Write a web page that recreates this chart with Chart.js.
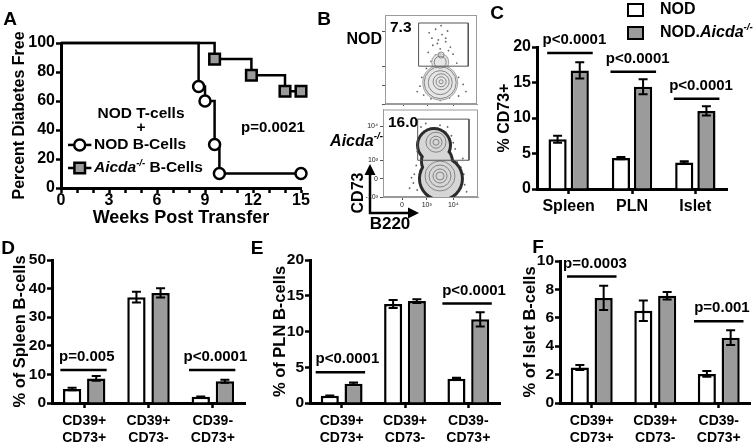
<!DOCTYPE html>
<html>
<head>
<meta charset="utf-8">
<title>Aicda B-cells</title>
<script src="https://cdn.jsdelivr.net/npm/chart.js@4.4.1/dist/chart.umd.min.js"></script>
<style>
  body { margin: 0; background: #fff; }
  #fig { position: relative; width: 755px; height: 447px; overflow: hidden; }
  #fig canvas { position: absolute; }
</style>
</head>
<body>
<div id="fig">
  <canvas id="chartA" width="332" height="232" style="left:0;top:0"></canvas>
  <canvas id="chartB1" width="160" height="106" style="left:320px;top:0"></canvas>
  <canvas id="chartB2" width="160" height="130" style="left:320px;top:104px"></canvas>
  <canvas id="chartC" width="325" height="225" style="left:430px;top:0"></canvas>
  <canvas id="chartD" width="250" height="222" style="left:0;top:225px"></canvas>
  <canvas id="chartE" width="262" height="222" style="left:250px;top:225px"></canvas>
  <canvas id="chartF" width="255" height="222" style="left:500px;top:225px"></canvas>
</div>
<script>
// ---- A : diabetes free after transfer
const nodWeeks = [0, 8.6, 9.0, 9.6, 9.9, 15];
const nodFree = [100, 70, 60, 30, 10, 10];
const aicdaWeeks = [0, 9.6, 11.9, 14.0, 15];
const aicdaFree = [100, 88.9, 77.8, 66.7, 66.7];
const weekTicks = [0, 3, 6, 9, 12, 15];

// ---- B : flow plots (axes in % of plot box)
const gateX = [36.5, 90.5, 90.5, 36.5, 36.5];
const gateNodY = [91, 91, 42.5, 42.5, 91];
const gateAicdaY = [89, 89, 42, 42, 89];
const flowXTicks = [20, 46, 74];
const flowXLabels = ['0', '10³', '10⁴'];
const flowYTicks = [0, 21, 42, 81];
const flowYLabels = ['-10³', '0', '10³', '10⁴'];
const nodLobes = [[60, 24, 17], [60, 47, 8]];
const nodRings = [[60, 24, 16], [60, 24, 12], [61, 25, 8], [61, 25, 5], [61, 25, 2], [60, 47, 6], [61, 55, 3]];
const nodDots = [[48, 80], [55, 84], [62, 78], [68, 82], [58, 72], [66, 70], [52, 66], [71, 64], [60, 62], [47, 58],
  [74, 56], [55, 55], [67, 52], [50, 48], [78, 46], [63, 40], [45, 40], [72, 38], [54, 36], [80, 30], [40, 30],
  [85, 22], [38, 20], [88, 14], [42, 10], [50, 6], [60, 4], [70, 7], [80, 9], [35, 14], [76, 18], [45, 24],
  [66, 74], [57, 68], [61, 88], [69, 60], [51, 74]];
const aicdaLobes = [[53.7, 59.3, 15], [56.8, 40.7, 14], [61, 21, 20]];
const aicdaRings = [[60, 24, 15], [60, 24, 11], [60, 24, 7], [60, 24, 4], [55.8, 62.6, 10], [55.8, 62.6, 6], [55.8, 62.6, 3]];
const aicdaDots = [[40, 80], [48, 76], [66, 74], [72, 70], [38, 66], [74, 62], [36, 52], [76, 55], [70, 48], [40, 44],
  [78, 40], [35, 36], [82, 34], [33, 26], [85, 26], [32, 16], [86, 14], [36, 8], [88, 6], [45, 84], [60, 82],
  [68, 80], [42, 72], [80, 20], [30, 22], [84, 44], [73, 30], [39, 30], [82, 10], [28, 10]];

// ---- C : % CD73+
const tissues = ['Spleen', 'PLN', 'Islet'];
const cNod = [7.0, 4.35, 3.75];
const cNodErr = [0.5, 0.15, 0.15];
const cAicda = [16.7, 14.4, 11.0];
const cAicdaErr = [1.15, 1.05, 0.65];
const cP = ['p<0.0001', 'p<0.0001', 'p<0.0001'];
const cPLevel = [19.15, 16.5, 12.7];

// ---- D, E, F : CD39 / CD73 subsets
const subsets = [['CD39+', 'CD73+'], ['CD39+', 'CD73-'], ['CD39-', 'CD73+']];
const dNod = [4.9, 37.0, 2.2];
const dNodErr = [0.4, 1.9, 0.1];
const dAicda = [8.6, 38.5, 7.6];
const dAicdaErr = [0.8, 1.6, 0.5];
const dP = ['p=0.005', null, 'p<0.0001'];
const dPLevel = [11.5, null, 11.5];

const eNod = [1.0, 13.85, 3.4];
const eNodErr = [0.05, 0.55, 0.12];
const eAicda = [2.7, 14.25, 11.7];
const eAicdaErr = [0.15, 0.25, 1.0];
const eP = ['p<0.0001', null, 'p<0.0001'];
const ePLevel = [4.3, null, 13.9];

const fNod = [2.5, 6.5, 2.05];
const fNodErr = [0.17, 0.72, 0.2];
const fAicda = [7.4, 7.55, 4.6];
const fAicdaErr = [0.85, 0.27, 0.52];
const fP = ['p=0.0003', null, 'p=0.001'];
const fPLevel = [8.9, null, 5.75];

const FONT = '"Liberation Sans", Arial, Helvetica, sans-serif';
const GRAY = '#9b9b9b';

Chart.defaults.font.family = FONT;
Chart.defaults.color = '#000';
Chart.defaults.animation = false;
Chart.defaults.responsive = false;
Chart.defaults.events = [];
Chart.defaults.plugins.legend.display = false;
Chart.defaults.plugins.tooltip.enabled = false;

// text with italic gene name and superscript
function richText(ctx, parts, x, y, size, align) {
  const fonts = parts.map(p => p[1] === 's' ? 'italic bold ' + (size * 0.62) + 'px ' + FONT
    : p[1] === 'i' ? 'italic bold ' + size + 'px ' + FONT : 'bold ' + size + 'px ' + FONT);
  let w = 0;
  parts.forEach((p, k) => { ctx.font = fonts[k]; w += ctx.measureText(p[0]).width; });
  let cx = align === 'right' ? x - w : align === 'center' ? x - w / 2 : x;
  ctx.textAlign = 'left';
  ctx.textBaseline = 'middle';
  parts.forEach((p, k) => {
    ctx.font = fonts[k];
    ctx.fillText(p[0], cx, p[1] === 's' ? y - size * 0.33 : y);
    cx += ctx.measureText(p[0]).width;
  });
}

function axisOpts(size, lh) {
  return {
    border: { color: '#000', width: 3 },
    grid: { drawOnChartArea: false, tickLength: 5, tickWidth: 2.5, tickColor: '#000' },
    ticks: { color: '#000', padding: 1, autoSkip: false, maxRotation: 0, font: { size: size, weight: 'bold', lineHeight: lh || 1 } }
  };
}

function axisTitle(text, size, pad) {
  return { display: true, text: text, color: '#000', font: { size: size, weight: 'bold', lineHeight: 1 }, padding: pad };
}

// error bars from dataset.errors
const errorBars = {
  id: 'errorBars',
  afterDatasetsDraw(chart) {
    const ctx = chart.ctx, ys = chart.scales.y;
    chart.data.datasets.forEach((ds, i) => {
      if (!ds.errors) return;
      chart.getDatasetMeta(i).data.forEach((bar, j) => {
        const e = ds.errors[j];
        if (!e) return;
        const top = ys.getPixelForValue(ds.data[j] + e);
        const bot = ys.getPixelForValue(ds.data[j] - e);
        ctx.save();
        ctx.strokeStyle = '#000';
        ctx.lineWidth = 2;
        ctx.beginPath();
        ctx.moveTo(bar.x, top); ctx.lineTo(bar.x, bot);
        ctx.moveTo(bar.x - 4.5, top); ctx.lineTo(bar.x + 4.5, top);
        ctx.moveTo(bar.x - 4.5, bot); ctx.lineTo(bar.x + 4.5, bot);
        ctx.stroke();
        ctx.restore();
      });
    });
  }
};

// ---------------- A
function legendKey(ctx, x1, x2, y, kind) {
  ctx.lineWidth = 2.5;
  ctx.strokeStyle = '#000';
  ctx.beginPath(); ctx.moveTo(x1, y); ctx.lineTo(x2, y); ctx.stroke();
  const cx = (x1 + x2) / 2;
  ctx.beginPath();
  if (kind === 'circle') { ctx.arc(cx, y, 5.5, 0, Math.PI * 2); ctx.fillStyle = '#fff'; }
  else { ctx.rect(cx - 5.3, y - 5.3, 10.6, 10.6); ctx.fillStyle = GRAY; }
  ctx.fill(); ctx.stroke();
}

const panelA = {
  id: 'panelA',
  afterDraw(chart) {
    const ctx = chart.ctx;
    const X = v => chart.scales.x.getPixelForValue(v);
    const Y = v => chart.scales.y.getPixelForValue(v);
    ctx.save();
    ctx.fillStyle = '#000';
    ctx.textAlign = 'center';
    ctx.textBaseline = 'middle';
    ctx.font = 'bold 15.5px ' + FONT;
    ctx.fillText('NOD T-cells', X(5), Y(51));
    ctx.fillText('+', X(5), Y(41.5));
    ctx.font = 'bold 15px ' + FONT;
    ctx.fillText('p=0.0021', X(13.25), Y(41.4));
    legendKey(ctx, X(0.44), X(1.9), Y(29.7), 'circle');
    legendKey(ctx, X(0.44), X(1.9), Y(13.8), 'square');
    ctx.fillStyle = '#000';
    richText(ctx, [['NOD B-Cells', 'b']], X(2.06), Y(29.7), 15.5, 'left');
    richText(ctx, [['Aicda', 'i'], ['-/-', 's'], [' B-Cells', 'b']], X(2.06), Y(13.8), 15.5, 'left');
    ctx.font = 'bold 19px ' + FONT;
    ctx.textAlign = 'center';
    ctx.fillText('A', 10, 20);
    ctx.fillText('B', 324, 20);
    ctx.restore();
  }
};

const aX = axisOpts(16);
Object.assign(aX, { type: 'linear', min: 0, max: 15,
  title: axisTitle('Weeks Post Transfer', 18, { top: 0, bottom: 5 }),
  afterFit: s => { s.height = 44; } });
aX.ticks.stepSize = 1;
aX.ticks.padding = 0;
aX.ticks.callback = v => weekTicks.includes(v) ? v : '';
const aY = axisOpts(16);
Object.assign(aY, { min: 0, max: 100,
  title: axisTitle('Percent Diabetes Free', 16, { top: 12, bottom: 0 }),
  afterFit: s => { s.width = 61; } });
aY.ticks.stepSize = 20;

new Chart(document.getElementById('chartA'), {
  type: 'line',
  data: {
    datasets: [{
      label: 'NOD B-Cells',
      data: nodWeeks.map((w, i) => ({ x: w, y: nodFree[i] })),
      stepped: true, borderColor: '#000', borderWidth: 2.5, clip: false,
      pointStyle: 'circle', pointRadius: nodWeeks.map((w, i) => i === 0 ? 0 : 5.5),
      pointBackgroundColor: '#fff', pointBorderColor: '#000', pointBorderWidth: 2.5
    }, {
      label: 'Aicda-/- B-Cells',
      data: aicdaWeeks.map((w, i) => ({ x: w, y: aicdaFree[i] })),
      stepped: true, borderColor: '#000', borderWidth: 2.5, clip: false,
      pointStyle: 'rect', pointRadius: aicdaWeeks.map((w, i) => i === 0 ? 0 : 7.5),
      pointBackgroundColor: GRAY, pointBorderColor: '#000', pointBorderWidth: 2.5
    }]
  },
  options: {
    layout: { autoPadding: false, padding: { left: 0, top: 43, right: 31, bottom: 0 } },
    scales: { x: aX, y: aY }
  },
  plugins: [panelA]
});

// ---------------- B
const plotBox = {
  id: 'plotBox',
  beforeDatasetsDraw(chart) {
    const a = chart.chartArea, ctx = chart.ctx;
    ctx.save();
    ctx.strokeStyle = '#9a9a9a';
    ctx.lineWidth = 1;
    ctx.strokeRect(a.left + 0.5, a.top + 0.5, a.right - a.left - 1, a.bottom - a.top - 1);
    ctx.restore();
  }
};

function makeFlow(id, o) {
  const flowAxis = (ticks, labels, showLabels, size) => ({
    type: 'linear', min: 0, max: 100,
    afterBuildTicks: s => { s.ticks = ticks.map(v => ({ value: v })); },
    border: { color: '#9a9a9a', width: 1 },
    grid: { drawOnChartArea: false, tickLength: 3, tickWidth: 1, tickColor: '#555' },
    ticks: { display: showLabels, autoSkip: false, maxRotation: 0, padding: o.tickPad, color: '#222',
      font: { size: 7, lineHeight: 1 }, callback: (v, i) => labels[i] },
    afterFit: s => { if (s.isHorizontal()) s.height = size; else s.width = size; }
  });
  return new Chart(document.getElementById(id), {
    type: 'bubble',
    data: {
      datasets: [{
        type: 'line', data: gateX.map((x, i) => ({ x: x, y: o.gateY[i] })),
        borderColor: '#555', borderWidth: 1, pointRadius: 0, order: 0
      }, {
        data: o.rings.map(r => ({ x: r[0], y: r[1], r: r[2] })),
        backgroundColor: 'rgba(0,0,0,0)', borderColor: '#7a7a7a', borderWidth: 0.9, order: 1
      }, {
        data: o.lobes.map(r => ({ x: r[0], y: r[1], r: r[2] })),
        backgroundColor: o.fill, borderWidth: 0, order: 2
      }, {
        data: o.lobes.map(r => ({ x: r[0], y: r[1], r: r[2] + o.edge })),
        backgroundColor: o.edgeColor, borderWidth: 0, order: 3
      }, {
        data: o.dots.map(d => ({ x: d[0], y: d[1], r: 0.9 })),
        backgroundColor: '#666', borderWidth: 0, order: 4
      }]
    },
    options: {
      layout: { autoPadding: false, padding: o.pad },
      scales: {
        x: flowAxis(flowXTicks, flowXLabels, o.labels, o.xH),
        y: flowAxis(flowYTicks, flowYLabels, o.labels, o.yW)
      }
    },
    plugins: [plotBox, { id: 'flowText', afterDraw: o.deco }]
  });
}

makeFlow('chartB1', {
  gateY: gateNodY, rings: nodRings, lobes: nodLobes, dots: nodDots,
  fill: '#e6e6e6', edge: 1, edgeColor: '#a8a8a8', labels: false, tickPad: 0,
  pad: { left: 0, top: 15, right: 3, bottom: 0 }, xH: 2, yW: 65,
  deco(chart) {
    const ctx = chart.ctx;
    ctx.save();
    ctx.fillStyle = '#000';
    richText(ctx, [['NOD', 'b']], 62, 40, 16, 'right');
    richText(ctx, [['7.3', 'b']], 70, 28, 15.5, 'left');
    ctx.restore();
  }
});

makeFlow('chartB2', {
  gateY: gateAicdaY, rings: aicdaRings, lobes: aicdaLobes, dots: aicdaDots,
  fill: '#d6d6d6', edge: 3, edgeColor: '#2b2b2b', labels: true, tickPad: 2,
  pad: { left: 0, top: 2, right: 2, bottom: 0 }, xH: 37, yW: 63,
  deco(chart) {
    const ctx = chart.ctx;
    ctx.save();
    ctx.fillStyle = '#000';
    richText(ctx, [['16.0', 'b']], 68, 19, 15.5, 'left');
    richText(ctx, [['Aicda', 'i'], ['-/-', 's']], 63, 38, 16, 'right');
    // CD73 / B220 arrows
    ctx.strokeStyle = '#000';
    ctx.lineWidth = 2.5;
    ctx.beginPath(); ctx.moveTo(50, 69); ctx.lineTo(50, 109); ctx.lineTo(90, 109); ctx.stroke();
    ctx.beginPath(); ctx.moveTo(50, 60); ctx.lineTo(44.5, 71); ctx.lineTo(55.5, 71); ctx.closePath(); ctx.fill();
    ctx.beginPath(); ctx.moveTo(99, 109); ctx.lineTo(88, 103.5); ctx.lineTo(88, 114.5); ctx.closePath(); ctx.fill();
    ctx.save();
    ctx.translate(39, 89);
    ctx.rotate(-Math.PI / 2);
    richText(ctx, [['CD73', 'b']], 0, 0, 16, 'center');
    ctx.restore();
    richText(ctx, [['B220', 'b']], 70, 120, 17, 'center');
    ctx.restore();
  }
});

// ---------------- C - F
function makeBars(id, p) {
  const xs = axisOpts(p.xFont, p.xLH);
  xs.grid.offset = false;
  xs.ticks.padding = p.xPad;
  xs.afterFit = s => { s.height = p.xH; };
  const ys = axisOpts(p.yFont);
  Object.assign(ys, { min: 0, max: p.yMax, title: axisTitle(p.yTitle, p.titleSize, { top: p.titlePad, bottom: 0 }),
    afterFit: s => { s.width = p.yW; } });
  ys.ticks.stepSize = p.yStep;

  const sig = {
    id: 'sig',
    afterDraw(chart) {
      const ctx = chart.ctx, X = chart.scales.x, Y = chart.scales.y;
      ctx.save();
      ctx.fillStyle = '#000';
      ctx.strokeStyle = '#000';
      p.pText.forEach((t, i) => {
        if (!t) return;
        const y = Y.getPixelForValue(p.pLevel[i]);
        ctx.lineWidth = 2.5;
        ctx.beginPath();
        ctx.moveTo(X.getPixelForValue(i + p.span[0]), y);
        ctx.lineTo(X.getPixelForValue(i + p.span[1]), y);
        ctx.stroke();
        richText(ctx, [[t, 'b']], X.getPixelForValue(i + p.textDx), y - 13, 15, 'center');
      });
      richText(ctx, [[p.letter[0], 'b']], p.letter[1], p.letter[2], 19, 'center');
      if (p.legend) {
        ctx.lineWidth = 2;
        ctx.fillStyle = '#fff'; ctx.fillRect(198, 4, 15, 12); ctx.strokeRect(198, 4, 15, 12);
        ctx.fillStyle = GRAY; ctx.fillRect(198, 27, 15, 12); ctx.strokeRect(198, 27, 15, 12);
        ctx.fillStyle = '#000';
        richText(ctx, [['NOD', 'b']], 230, 10, 16, 'left');
        richText(ctx, [['NOD.', 'b'], ['Aicda', 'i'], ['-/-', 's']], 230, 33, 16, 'left');
      }
      ctx.restore();
    }
  };

  return new Chart(document.getElementById(id), {
    type: 'bar',
    data: {
      labels: p.labels,
      datasets: [{
        label: 'NOD', data: p.nod, errors: p.nodErr,
        backgroundColor: '#fff', borderColor: '#000', borderWidth: 2.5,
        categoryPercentage: p.cp, barPercentage: p.bp
      }, {
        label: 'NOD.Aicda-/-', data: p.aicda, errors: p.aicdaErr,
        backgroundColor: GRAY, borderColor: '#000', borderWidth: 2.5,
        categoryPercentage: p.cp, barPercentage: p.bp
      }]
    },
    options: {
      layout: { autoPadding: false, padding: p.pad },
      scales: { x: xs, y: ys }
    },
    plugins: [errorBars, sig]
  });
}

makeBars('chartC', {
  labels: tissues, nod: cNod, nodErr: cNodErr, aicda: cAicda, aicdaErr: cAicdaErr,
  pText: cP, pLevel: cPLevel, yMax: 20, yStep: 5, yTitle: '% CD73+', titleSize: 16, titlePad: 67,
  yW: 107, xH: 36, pad: { left: 0, top: 47, right: 28, bottom: 0 }, cp: 0.7, bp: 0.82,
  xFont: 16, xLH: 1, xPad: 5, yFont: 16, span: [-0.34, 0.38], textDx: 0.09,
  letter: ['C', 67, 14], legend: true
});

makeBars('chartD', {
  labels: subsets, nod: dNod, nodErr: dNodErr, aicda: dAicda, aicdaErr: dAicdaErr,
  pText: dP, pLevel: dPLevel, yMax: 50, yStep: 10, yTitle: '% of Spleen B-cells', titleSize: 16.5, titlePad: 11.75,
  yW: 52, xH: 44, pad: { left: 0, top: 35, right: 5, bottom: 0 }, cp: 0.75, bp: 0.76,
  xFont: 14, xLH: 1.2, xPad: 5, yFont: 15.5, span: [-0.37, 0.35], textDx: 0.04,
  letter: ['D', 8, 24]
});

makeBars('chartE', {
  labels: subsets, nod: eNod, nodErr: eNodErr, aicda: eAicda, aicdaErr: eAicdaErr,
  pText: eP, pLevel: ePLevel, yMax: 20, yStep: 5, yTitle: '% of PLN B-cells', titleSize: 16.5, titlePad: 21.75,
  yW: 60, xH: 44, pad: { left: 0, top: 35, right: 12, bottom: 0 }, cp: 0.75, bp: 0.76,
  xFont: 14, xLH: 1.2, xPad: 5, yFont: 15.5, span: [-0.41, 0.37], textDx: 0.09,
  letter: ['E', 7, 24]
});

makeBars('chartF', {
  labels: subsets, nod: fNod, nodErr: fNodErr, aicda: fAicda, aicdaErr: fAicdaErr,
  pText: fP, pLevel: fPLevel, yMax: 10, yStep: 2, yTitle: '% of Islet B-cells', titleSize: 16.5, titlePad: 21.75,
  yW: 60, xH: 44, pad: { left: 0, top: 36, right: 4.5, bottom: 0 }, cp: 0.75, bp: 0.76,
  xFont: 14, xLH: 1.2, xPad: 5, yFont: 15.5, span: [-0.39, 0.39], textDx: 0.05,
  letter: ['F', 38, 23]
});
</script>
</body>
</html>
